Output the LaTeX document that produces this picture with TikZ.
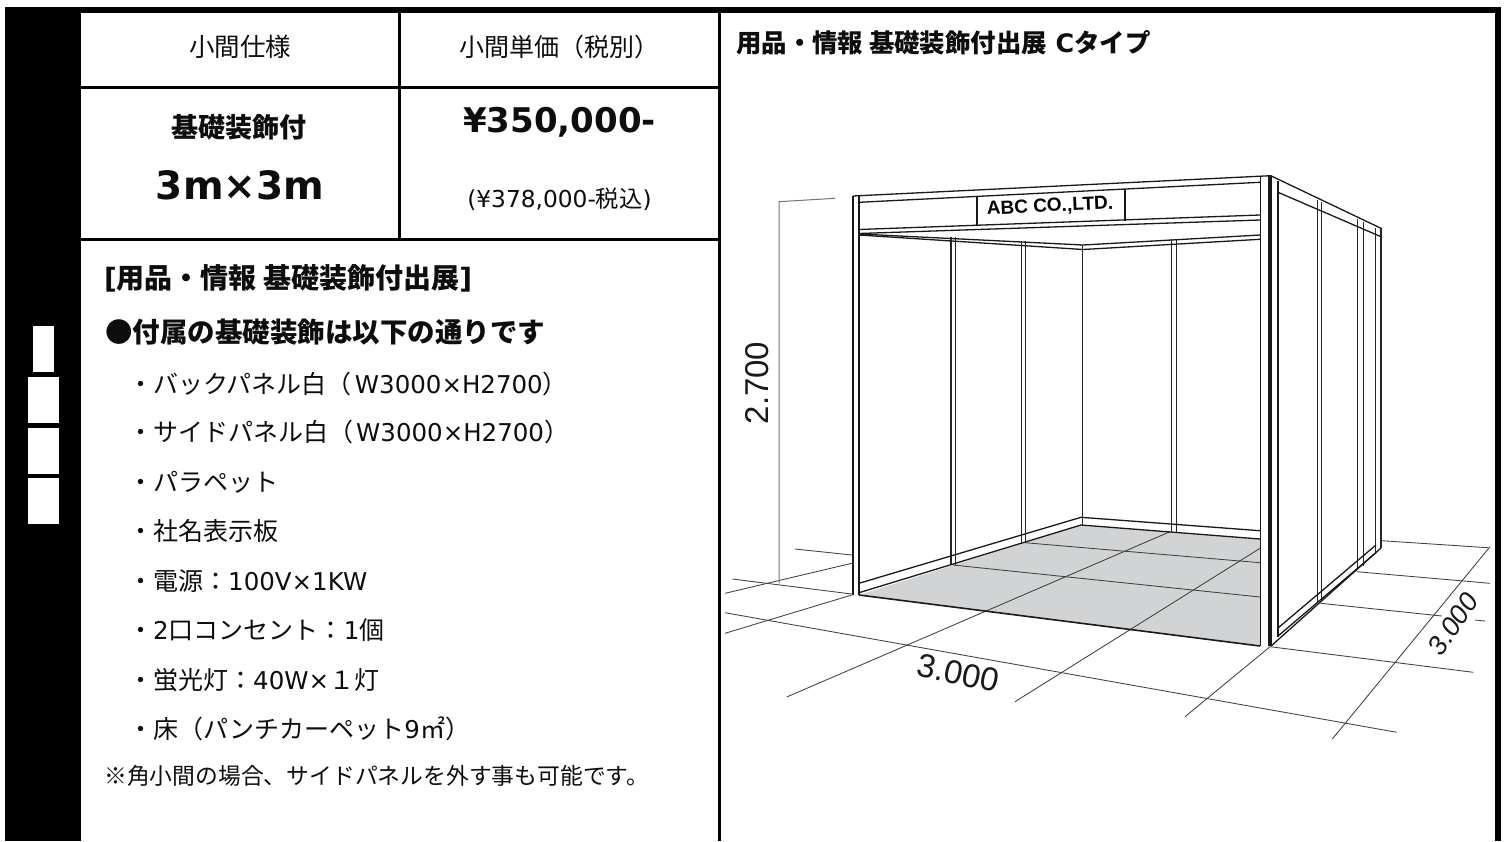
\documentclass[tikz,border=0pt]{standalone}
\usepackage{fontspec}
\setmainfont{DejaVu Sans}
\newfontfamily\jp{Noto Sans CJK JP}
\newfontfamily\hv{Liberation Sans}
\newcommand\fs[1]{\fontsize{#1}{#1}\selectfont}
\newcommand\ltn{\fontsize{24.5}{25}\selectfont}
\definecolor{carpet}{HTML}{D1D3D4}
\tikzset{
  txt/.style={inner sep=0pt,anchor=center,text=black!95},
  lft/.style={inner sep=0pt,anchor=west,text=black!95},
  wall/.style={draw=black!85,line width=1.15pt},
  grid/.style={draw=black!75,line width=0.85pt},
  rail/.style={draw=black!90,line width=1.3pt},
}
\begin{document}
\begin{tikzpicture}[x=1pt,y=-1pt]
\useasboundingbox (0,0) rectangle (1506,841);
\fill[white] (0,0) rectangle (1506,841);
% frame
\fill[black] (5,7) rectangle (1501,841);
\fill[white] (81,13) rectangle (397.5,86);
\fill[white] (400.5,13) rectangle (717.5,86);
\fill[white] (81,89) rectangle (397.5,238);
\fill[white] (400.5,89) rectangle (717.5,238);
\fill[white] (81,241) rectangle (717.5,841);
\fill[white] (720.5,13) rectangle (1495,841);
\fill[white] (33,326) rectangle (54,372);
\fill[white] (28,377) rectangle (59,423);
\fill[white] (28,428) rectangle (59,474);
\fill[white] (28,478) rectangle (59,524);
% left table text
\node[txt] (h1) at (240,47) {\fs{25.5}\jp 小間仕様};
\node[txt] (h2) at (559.5,47) {\fs{25}\jp 小間単価（税別）};
\node[txt] (s1) at (238.5,127) {\fs{27}\jp\bfseries 基礎装飾付};
\node[txt] (s2) at (240,185) {\fs{39}\bfseries 3m×3m};
\node[txt] (p1) at (559.5,122) {\fs{34}\bfseries ¥350,000-};
\node[txt] (p2) at (559.5,199.5) {\fs{23.3}({¥}378,000-{\jp 税込})};
\node[lft] (t1) at (104,278) {\fs{28}\bfseries [{\jp 用品・情報 基礎装飾付出展}]};
\node[lft] (t2) at (105,332) {\fs{27.5}\jp\bfseries ●付属の基礎装飾は以下の通りです};
\node[lft] (l1) at (128,383.5) {\fs{25}{\jp ・バックパネル白（}\hspace{3pt}\ltn W3000×H2700{\fs{25}\jp ）}};
\node[lft] (l2) at (128,431.5) {\fs{25}{\jp ・サイドパネル白（}\hspace{3pt}\ltn W3000×H2700{\fs{25}\jp ）}};
\node[lft] (l3) at (128,482) {\fs{25}{\jp ・パラペット}};
\node[lft] (l4) at (128,530.5) {\fs{25}{\jp ・社名表示板}};
\node[lft] (l5) at (128,581.5) {\fs{25}{\jp ・電源：}\ltn 100V×1KW};
\node[lft] (l6) at (128,630) {\fs{25}{\jp ・}\ltn 2{\fs{25}\jp 口コンセント：}\ltn 1{\fs{25}\jp 個}};
\node[lft] (l7) at (128,680.5) {\fs{25}{\jp ・蛍光灯：}\ltn 40W×{\fs{25}\jp １灯}};
\node[lft] (l8) at (128,729) {\fs{25}{\jp ・床（パンチカーペット}\ltn 9{\fs{25}\jp ㎡）}};
\node[lft] (l9) at (104,775.5) {\fs{22.8}\jp ※角小間の場合、サイドパネルを外す事も可能です。};
\node[lft] (ti) at (736,43) {\fs{25.4}\bfseries {\jp 用品・情報 基礎装飾付出展} C{\jp タイプ}};
% floor
\fill[carpet] (859,595) -- (1081,525) -- (1260,539) -- (1260,646) -- cycle;
% ground grid
\draw[grid] (795,549) -- (851.7,555);
\draw[grid] (725,593.3) -- (851.7,563.3);
\draw[grid] (732.3,579) -- (851.7,594);
\draw[grid] (725,633.3) -- (851.7,595);
\draw[grid] (725,612.7) -- (1396.7,732.3);
\draw[grid] (1270,646.7) -- (1473.3,672.3);
\draw[grid] (1320.7,603.3) -- (1441.7,616);
\draw[grid] (1475,620) -- (1485,621);
\draw[grid] (1356.7,571.7) -- (1490,583.3);
\draw[grid] (1381.7,540.7) -- (1488,547.7);
\draw[grid] (1170,531.7) -- (786.7,697);
\draw[grid] (1260,548.3) -- (1015,701.7);
\draw[grid] (1270,646.7) -- (1185,716.7);
\draw[grid] (1490,546.7) -- (1332.3,739);
\draw[grid] (953,565) -- (1260,597);
\draw[grid] (1025,542.7) -- (1260,562.7);
\draw[draw=black!90,line width=1.6pt] (859,595) -- (1260,646);
% dimension line
\draw[draw=black!55,line width=1pt] (835,198.3) -- (779,201.7) -- (779,583);
% posts
\draw[rail] (853,196) -- (853,595);
\draw[rail] (859,196) -- (859,595);
\draw[rail] (1260.5,176) -- (1260.5,646);
\draw[rail] (1269,176) -- (1269,646);
\draw[rail] (1271,176) -- (1271,646);
\draw[rail] (1278,181) -- (1278,637);
% wall posts
\draw[wall] (951,236.7) -- (951,565);
\draw[wall] (955.3,237) -- (955.3,565);
\draw[wall] (1021.3,241) -- (1021.3,542.7);
\draw[wall] (1025.7,241) -- (1025.7,542.7);
\draw[wall] (1082.5,245) -- (1082.5,525);
\draw[wall] (1171.7,239.3) -- (1171.7,531.7);
\draw[wall] (1176.7,239) -- (1176.7,531.7);
\draw[wall] (1317.7,200) -- (1317.7,601.7);
\draw[wall] (1321.3,202) -- (1321.3,600);
\draw[wall] (1357.3,219.3) -- (1357.3,568);
\draw[wall] (1363.3,222) -- (1363.3,566);
\draw[wall] (1375.3,228.3) -- (1375.3,552);
\draw[wall] (1381,228.3) -- (1381,548);
% beams
\draw[rail] (853,196) -- (1270.7,175.7) -- (1381,228.3);
\draw[rail] (859,202.3) -- (1260,182.3);
\draw[rail] (859,229.5) -- (1260,215);
\draw[rail] (859,233.5) -- (1260,220);
\draw[rail] (859,234) -- (1083,245) -- (1260,235);
\draw[rail] (859,235) -- (1083,249.5) -- (1260,239.3);
\draw[rail] (1278,192.3) -- (1381,236.7);
% sign
\draw[rail] (977,197) -- (977,226);
\draw[rail] (1125,189.3) -- (1125,220.7);
\node[txt,rotate=2.5,text=black] (sign) at (1050,206.7) {\fs{19}\hv\bfseries ABC CO.,LTD.};
% bases
\draw[rail] (859,583.3) -- (1081,517.3) -- (1260,530.7);
\draw[rail] (859,592.7) -- (1081,525) -- (1260,539);
\draw[rail] (1278,628) -- (1376,545);
\draw[rail] (1278,636) -- (1376.7,552);
\draw[rail] (1271,646) -- (1381,548);
% dimensions
\node[txt,rotate=90,text=black!90] (d1) at (757.5,383) {\fs{33}\hv 2.700};
\node[txt,rotate=-12,text=black!90] (d2) at (958,673) {\fs{33}\hv 3.000};
\node[txt,rotate=56,text=black!90] (d3) at (1453,624) {\fs{27}\hv\itshape 3.000};
\end{tikzpicture}
\end{document}
